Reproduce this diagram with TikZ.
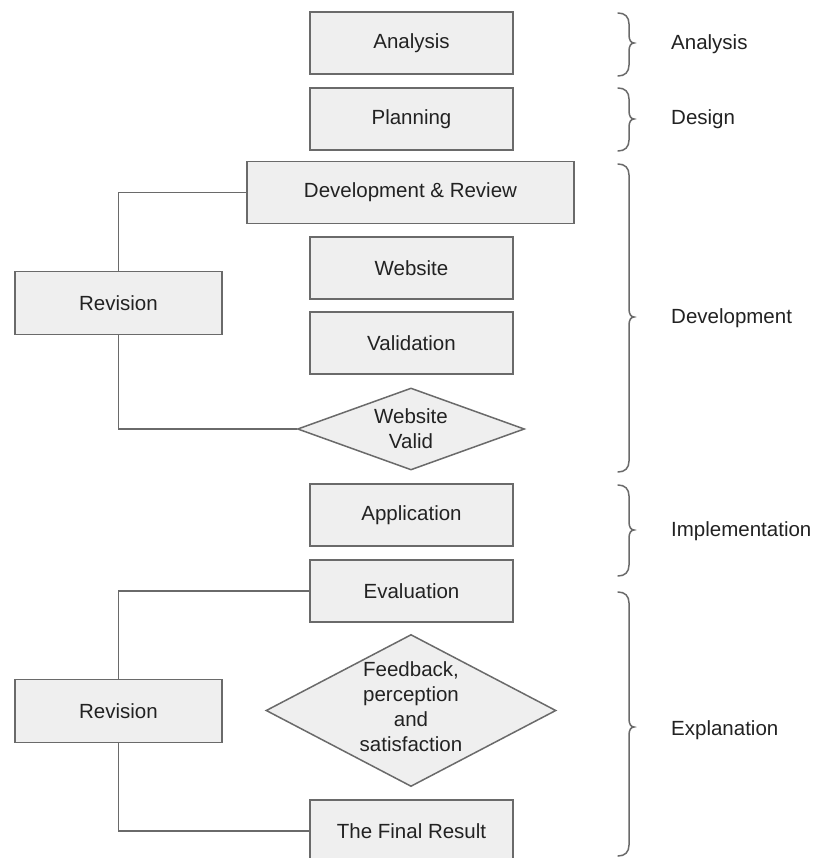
\documentclass[tikz,border=0pt]{standalone}
\usepackage{fontspec}
\setmainfont{Liberation Sans}
\usetikzlibrary{shapes.geometric}
\definecolor{boxgray}{HTML}{EFEFEF}
\definecolor{linegray}{HTML}{6A6A6A}
\definecolor{txtgray}{HTML}{222222}
\begin{document}
\begin{tikzpicture}[x=1pt,y=-1pt,
  box/.style={draw=linegray, fill=boxgray, line width=1.5pt, inner sep=0pt,
    minimum width=203pt, minimum height=62pt, text=txtgray,
    font=\fontsize{20.5}{25}\selectfont},
  dia/.style={diamond, draw=linegray, fill=boxgray, line width=1.5pt, inner sep=0pt},
  diatext/.style={align=center, inner sep=0pt, text=txtgray, font=\fontsize{20.5}{25}\selectfont},
  conn/.style={draw=linegray, line width=1.5pt},
  brc/.style={draw=linegray, line width=1.5pt, line cap=round},
  lbl/.style={anchor=west, inner sep=0pt, text=txtgray, font=\fontsize{20.5}{25}\selectfont}]
\useasboundingbox[fill=white] (0,0) rectangle (819,858);

% boxes
\node[box] (analysis) at (411.5,43) {Analysis};
\node[box] (planning) at (411.5,119) {Planning};
\node[box, minimum width=327pt] (devrev) at (410.5,192.5) {Development \& Review};
\node[box] (website) at (411.5,268) {Website};
\node[box] (validation) at (411.5,343) {Validation};
\node[dia, minimum width=227pt, minimum height=82pt] (valid) at (411,429) {};
\node[diatext] (validtext) at (valid.center) {Website\\Valid};
\node[box, minimum width=207pt, minimum height=63pt] (rev1) at (118.5,303) {Revision};

\node[box] (application) at (411.5,515) {Application};
\node[box] (evaluation) at (411.5,591) {Evaluation};
\node[dia, minimum width=290pt, minimum height=152pt] (feedback) at (411,710.5) {};
\node[diatext, yshift=4pt] (feedbacktext) at (feedback.center) {Feedback,\\perception\\and\\satisfaction};
\node[box, minimum width=207pt, minimum height=63pt] (rev2) at (118.5,711) {Revision};
\node[box] (final) at (411.5,831) {The Final Result};

% connectors
\draw[conn] (devrev.west) -| (rev1.north);
\draw[conn] (rev1.south) |- (valid.west);
\draw[conn] (evaluation.west) -| (rev2.north);
\draw[conn] (rev2.south) |- (final.west);

% braces
\newcommand{\mybrace}[3]{%
  \draw[brc] (618,#1) .. controls (625,#1) and (629,#1+4) .. (629,#1+11)
    -- (629,#2-8) .. controls (629,#2-3) and (631,#2) .. (634,#2)
    .. controls (631,#2) and (629,#2+3) .. (629,#2+8)
    -- (629,#3-11) .. controls (629,#3-4) and (625,#3) .. (618,#3);}
\mybrace{13}{43}{76}
\mybrace{88}{119}{151}
\mybrace{164}{317}{472}
\mybrace{485}{530}{576}
\mybrace{592}{727}{856}

% labels
\node[lbl] (lanalysis) at (671,44) {Analysis};
\node[lbl] (ldesign) at (671,119) {Design};
\node[lbl] (ldevelopment) at (671,318) {Development};
\node[lbl] (limplementation) at (671,531) {Implementation};
\node[lbl] (lexplanation) at (671,730) {Explanation};
\end{tikzpicture}
\end{document}
